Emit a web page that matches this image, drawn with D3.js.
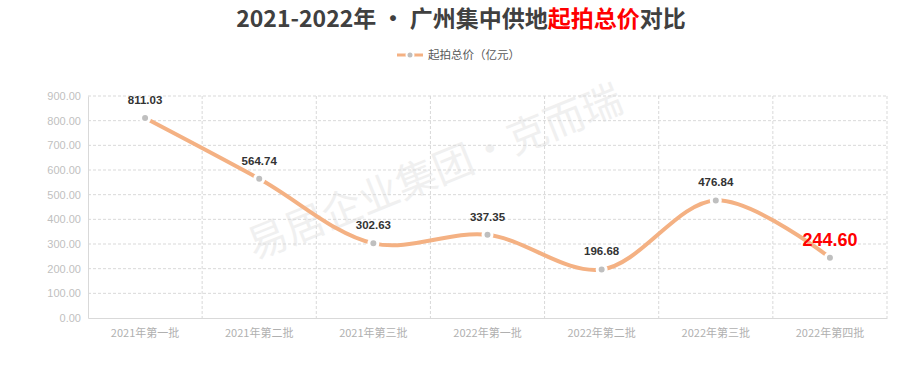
<!DOCTYPE html>
<html>
<head>
<meta charset="utf-8">
<script src="https://cdn.jsdelivr.net/npm/d3@7"></script>
<style>
  body { margin: 0; background: #fff; }
  text { font-family: "Noto Sans CJK SC", "Liberation Sans", sans-serif; }
</style>
</head>
<body>
<svg id="chart"></svg>
<script>
// Data
const categories = ["2021年第一批", "2021年第二批", "2021年第三批", "2022年第一批", "2022年第二批", "2022年第三批", "2022年第四批"];
const values = [811.03, 564.74, 302.63, 337.35, 196.68, 476.84, 244.60];
const yTicks = [0, 100, 200, 300, 400, 500, 600, 700, 800, 900];

const width = 924, height = 370;
const margin = { top: 96, right: 37, bottom: 52, left: 88 };

const svg = d3.select("#chart").attr("width", width).attr("height", height);

// faint watermark
svg.append("text")
    .attr("transform", "translate(440,185) rotate(-22)")
    .attr("text-anchor", "middle")
    .style("font-size", "40px")
    .style("fill", "#f0f0f0")
    .text("易居企业集团·克而瑞");

const x = d3.scaleBand()
    .domain(categories)
    .range([margin.left, width - margin.right]);

const y = d3.scaleLinear()
    .domain([0, 900])
    .range([height - margin.bottom, margin.top]);

// horizontal gridlines
svg.append("g")
    .selectAll("line")
    .data(yTicks.slice(1))
    .enter()
    .append("line")
    .attr("x1", margin.left)
    .attr("x2", width - margin.right)
    .attr("y1", d => y(d))
    .attr("y2", d => y(d))
    .style("stroke", "#d9d9d9")
    .style("stroke-dasharray", "3,2");

// vertical gridlines at band edges
svg.append("g")
    .selectAll("line")
    .data(categories.slice(1).concat(["end"]))
    .enter()
    .append("line")
    .attr("x1", (d, i) => margin.left + x.step() * (i + 1))
    .attr("x2", (d, i) => margin.left + x.step() * (i + 1))
    .attr("y1", y(900))
    .attr("y2", y(0))
    .style("stroke", "#d9d9d9")
    .style("stroke-dasharray", "3,2");

// y axis
const yAxis = svg.append("g")
    .attr("transform", `translate(${margin.left},0)`)
    .call(d3.axisLeft(y).tickValues(yTicks).tickFormat(d3.format(".2f")).tickSize(0).tickPadding(7));
yAxis.select(".domain").style("stroke", "#d9d9d9");
yAxis.selectAll("text").style("fill", "#bfbfbf").style("font-size", "11px")
    .style("font-family", "'Liberation Sans', sans-serif");

// x axis
const xAxis = svg.append("g")
    .attr("transform", `translate(0,${y(0)})`)
    .call(d3.axisBottom(x).tickSize(0).tickPadding(11));
xAxis.select(".domain").style("stroke", "#d9d9d9");
xAxis.selectAll("text").style("fill", "#b0b0b0").style("font-size", "11px");

// line
const line = d3.line()
    .x((d, i) => x(categories[i]) + x.bandwidth() / 2)
    .y(d => y(d))
    .curve(d3.curveCatmullRom.alpha(0.5));

svg.append("path")
    .datum(values)
    .attr("d", line)
    .style("fill", "none")
    .style("stroke", "#f4b183")
    .style("stroke-width", 4);

// markers
svg.append("g")
    .selectAll("circle")
    .data(values)
    .enter()
    .append("circle")
    .attr("cx", (d, i) => x(categories[i]) + x.bandwidth() / 2)
    .attr("cy", d => y(d))
    .attr("r", 4.5)
    .style("fill", "#bfbfbf")
    .style("stroke", "#fff")
    .style("stroke-width", 3);

// labels
const last = values.length - 1;
svg.append("g")
    .selectAll("text")
    .data(values)
    .enter()
    .append("text")
    .attr("x", (d, i) => x(categories[i]) + x.bandwidth() / 2)
    .attr("y", (d, i) => i === last ? y(d) - 12 : y(d) - 14)
    .attr("text-anchor", "middle")
    .style("font-family", "'Liberation Sans', sans-serif")
    .style("font-size", (d, i) => i === last ? "18px" : "11.5px")
    .style("font-weight", "bold")
    .style("fill", (d, i) => i === last ? "#ff0000" : "#333")
    .text(d => d.toFixed(2));

// title
const title = svg.append("text")
    .attr("x", 461)
    .attr("y", 27)
    .attr("text-anchor", "middle")
    .style("font-size", "23px")
    .style("font-weight", "bold")
    .style("fill", "#404040");
title.append("tspan").text("2021-2022年 · 广州集中供地");
title.append("tspan").style("fill", "#ff0000").text("起拍总价");
title.append("tspan").text("对比");

// legend
const legend = svg.append("g").attr("transform", "translate(397,55)");
legend.append("line").attr("x1", 0).attr("x2", 26)
    .style("stroke", "#f4b183").style("stroke-width", 3);
legend.append("circle").attr("cx", 13).attr("r", 3.5)
    .style("fill", "#bfbfbf").style("stroke", "#fff").style("stroke-width", 2);
legend.append("text").attr("x", 31).attr("dy", "0.35em")
    .style("font-size", "11.5px").style("fill", "#595959")
    .text("起拍总价（亿元）");
</script>
</body>
</html>
